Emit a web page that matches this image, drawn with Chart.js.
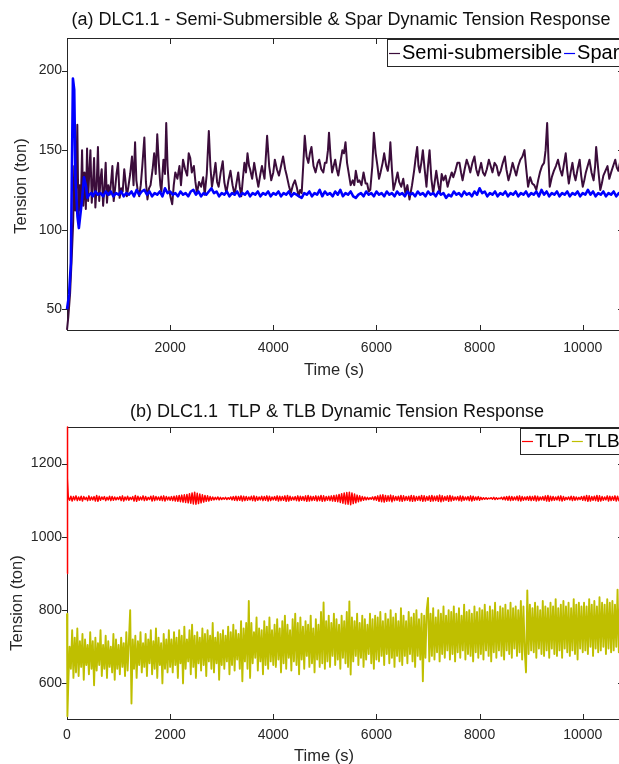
<!DOCTYPE html>
<html>
<head>
<meta charset="utf-8">
<script src="https://cdn.jsdelivr.net/npm/chart.js@4.4.1/dist/chart.umd.min.js"></script>
<style>
  html, body { margin: 0; padding: 0; background: #fff; }
  body { width: 619px; height: 764px; overflow: hidden; position: relative; }
  .panel { position: absolute; left: 0; width: 640px; }
  #pa { top: 0; height: 380px; }
  #pb { top: 380px; height: 384px; }
</style>
</head>
<body>
<div class="panel" id="pa"><canvas id="ca" width="640" height="380"></canvas></div>
<div class="panel" id="pb"><canvas id="cb" width="640" height="384"></canvas></div>
<script>
// ---------------- DATA ----------------
// Panel (a): Semi-submersible (time in s, tension in ton)
const semiTime = [0,25,60,95,120,140,160,180,200,222,245,265,292,315,340,365,389,410,430,454,480,505,525,550,575,600,625,650,673,700,725,750,775,800,830,860,880,905,930,960,990,1020,1050,1080,1110,1130,1160,1190,1225,1260,1290,1320,1345,1370,1400,1430,1460,1500,1530,1560,1590,1620,1660,1690,1720,1750,1780,1810,1830,1870,1900,1924,1950,1980,2010,2040,2070,2100,2140,2180,2210,2250,2290,2330,2360,2390,2420,2460,2490,2520,2560,2600,2640,2670,2710,2750,2780,2810,2850,2880,2910,2940,2980,3020,3050,3090,3130,3170,3210,3250,3290,3320,3350,3380,3410,3440,3470,3500,3530,3550,3590,3630,3670,3710,3750,3780,3830,3880,3920,3960,4000,4030,4070,4110,4150,4190,4230,4260,4300,4340,4380,4420,4460,4490,4520,4550,4580,4610,4645,4680,4710,4740,4780,4820,4860,4890,4930,4970,5000,5030,5060,5080,5110,5140,5170,5200,5230,5260,5300,5340,5370,5400,5430,5470,5500,5540,5570,5600,5640,5670,5710,5750,5790,5820,5850,5880,5920,5950,5985,6020,6050,6080,6120,6150,6190,6220,6250,6270,6300,6330,6370,6410,6440,6480,6520,6560,6600,6640,6690,6730,6760,6790,6815,6840,6870,6900,6935,6970,7000,7030,7065,7100,7130,7160,7200,7230,7265,7300,7340,7380,7420,7460,7490,7530,7570,7610,7640,7670,7710,7750,7790,7820,7860,7900,7935,7970,8000,8030,8065,8100,8140,8180,8215,8250,8290,8330,8370,8410,8450,8490,8520,8560,8600,8640,8675,8710,8750,8790,8830,8870,8905,8940,8980,9020,9060,9100,9135,9170,9210,9250,9280,9310,9335,9360,9400,9440,9480,9520,9560,9600,9635,9670,9700,9730,9765,9800,9830,9860,9900,9940,9970,10000,10030,10060,10095,10130,10170,10210,10240,10260,10300,10340,10370,10400,10440,10480,10515,10550,10590,10630,10660,10690,10720,10760,10800];
const semiTension = [37,45,60,85,105,140,112,130,166,108,128,112,150,115,136,113,151,118,135,150,117,130,145,114,128,152,118,132,138,115,126,142,117,128,122,132,140,118,125,135,142,120,126,124,138,132,121,127,135,146,128,155,131,125,121,128,140,158,130,119,126,128,138,148,135,160,142,128,124,144,135,167,140,125,120,116,128,136,132,140,128,144,138,134,148,145,136,140,130,123,130,127,133,122,135,162,140,127,135,142,130,127,136,143,130,123,131,137,128,122,130,136,127,121,132,142,136,148,140,138,132,142,134,127,135,140,132,159,140,131,136,144,138,134,140,146,138,134,128,123,128,131,126,121,125,123,140,159,146,142,148,152,140,136,142,144,138,136,142,142,150,161,146,136,140,144,138,134,142,150,148,155,142,134,128,131,128,137,130,131,128,136,129,129,124,125,140,161,148,140,132,136,142,148,140,137,144,155,138,125,130,136,130,127,132,123,128,119,128,137,145,152,140,136,142,150,138,127,140,150,132,123,130,137,128,123,135,131,134,127,132,136,133,137,142,142,136,131,138,144,140,136,142,146,138,134,138,142,136,134,138,144,140,136,142,140,134,137,142,146,138,131,136,142,138,134,140,144,146,150,138,127,133,129,128,125,131,136,140,142,150,167,145,127,133,137,140,144,138,134,141,148,137,129,136,142,135,131,138,144,134,127,131,136,140,144,136,131,140,152,138,125,129,134,137,140,132,136,140,144,139,137,142,146,140];

// Panel (a): Spar — start transient, then steady part sampled every 50 s from 500 s
const sparStartTime = [0,40,75,115,140,165,204,230,285,330,370,395,430,470];
const sparStartTension = [50,59,79,195,188,131,108,101,117,133,127,120,122,123];
const sparStep = 50;
const sparSteadyStart = 500;
const sparTension = [
  121,124,122,123,121,124,122,124,121,123,122,124,121,123,122,124,121,125,122,124,
  125,122,124,121,123,122,124,121,126,123,124,122,123,121,124,122,123,121,124,125,
  122,124,121,123,122,124,126,123,124,121,123,122,124,121,123,122,124,121,123,122,
  124,121,123,122,124,121,123,122,124,121,123,122,124,121,123,122,124,121,123,122,
  121,120,123,122,124,121,123,122,125,121,124,122,123,121,124,122,125,121,123,122,
  124,121,120,122,123,121,124,122,123,121,124,122,123,121,124,122,123,121,124,122,
  123,121,124,122,123,121,124,122,123,121,124,122,123,121,124,122,123,120,122,121,
  124,122,123,121,124,122,123,121,124,122,126,123,124,121,123,122,124,121,123,122,
  124,121,123,122,124,121,123,122,124,121,123,122,124,121,125,122,124,121,123,122,
  124,121,123,122,124,121,123,122,124,121,123,122,125,122,124,121,123,122,124,121,
  123,122,124,121,123,122,124];

// Panel (b): TLP and TLB — start transients, then samples every 25 s
const tlpStartTime = [0,5,15];
const tlpStartTension = [900,1300,1160];
const tlbStartTime = [0,8];
const tlbStartTension = [790,510];
const bStep = 25;
const tlpTension = [
  1108,1100,1111,1098,1110,1101,1112,1099,1109,1100,1111,1098,1110,1102,1108,1099,1112,1100,1109,1101,1110,1098,1113,1097,1111,1100,1109,1102,1110,1099,1108,1101,1111,1099,1110,1100,1109,1101,1108,1102,
  1110,1099,1112,1098,1109,1101,1111,1100,1108,1102,1110,1098,1113,1097,1111,1100,1109,1101,1112,1099,1110,1100,1108,1102,1111,1098,1112,1099,1110,1101,1109,1100,1111,1099,1112,1098,1110,1101,1109,1100,
  1110,1099,1111,1098,1112,1097,1113,1096,1114,1095,1115,1094,1116,1093,1118,1092,1120,1090,1122,1089,1119,1091,1117,1093,1115,1095,1113,1097,1112,1098,1110,1100,1109,1101,1108,1102,1109,1101,1108,1102,
  1107,1103,1108,1102,1107,1103,1109,1101,1110,1100,1111,1099,1110,1100,1112,1098,1111,1099,1110,1100,1109,1101,1111,1099,1112,1098,1110,1100,1109,1101,1111,1099,1110,1100,1112,1098,1111,1099,1109,1101,
  1110,1100,1112,1098,1111,1099,1110,1100,1112,1097,1113,1098,1111,1100,1109,1101,1110,1099,1112,1098,1111,1100,1110,1099,1112,1097,1113,1098,1111,1099,1110,1100,1112,1098,1111,1099,1113,1097,1112,1098,
  1110,1100,1111,1099,1112,1098,1113,1097,1114,1096,1116,1094,1118,1092,1120,1090,1121,1089,1122,1088,1120,1091,1117,1093,1114,1096,1112,1098,1110,1100,1109,1101,1108,1102,1107,1103,1109,1101,1110,1100,
  1112,1097,1114,1096,1115,1095,1113,1097,1112,1098,1114,1096,1112,1099,1110,1100,1111,1098,1113,1097,1112,1099,1110,1100,1111,1098,1113,1097,1112,1098,1110,1100,1111,1099,1113,1097,1112,1098,1110,1100,
  1112,1097,1113,1098,1111,1099,1112,1097,1114,1096,1112,1098,1110,1100,1112,1097,1113,1098,1111,1100,1109,1101,1110,1099,1112,1098,1111,1100,1109,1101,1110,1099,1112,1098,1111,1100,1109,1101,1110,1100,
  1108,1102,1107,1103,1107,1103,1106,1104,1107,1103,1108,1102,1107,1103,1106,1104,1108,1102,1109,1101,1110,1100,1111,1099,1110,1100,1109,1101,1111,1099,1112,1098,1110,1100,1109,1101,1110,1100,1111,1099,
  1110,1100,1112,1098,1111,1099,1109,1101,1110,1100,1112,1098,1113,1097,1111,1099,1110,1100,1109,1101,1111,1099,1112,1098,1110,1100,1108,1102,1109,1101,1111,1099,1110,1100,1109,1101,1108,1102,1110,1100,
  1111,1099,1113,1097,1112,1098,1110,1100,1111,1099,1113,1097,1112,1098,1110,1100,1109,1101,1112,1098,1111,1099,1110,1100,1112,1098,1111,1099,1110,1100,1109,1101];
const tlbTension = [
  600,700,640,745,615,725,630,750,620,715,645,735,610,720,650,705,625,740,640,715,595,725,635,710,650,745,620,705,640,730,615,715,645,700,630,735,610,720,640,705,
  625,725,645,710,620,740,635,715,800,545,720,640,730,615,715,650,740,630,710,645,735,620,720,655,745,625,715,640,750,615,725,650,710,600,735,640,720,630,745,645,
  720,630,740,650,725,615,745,655,730,600,755,640,720,660,745,625,760,645,730,615,740,655,725,635,750,650,735,620,745,660,730,640,765,630,725,655,740,610,735,650,
  745,640,730,660,755,625,740,650,760,635,745,665,735,640,770,606,750,660,765,640,825,615,765,655,740,670,780,635,750,660,745,625,770,650,755,640,780,660,745,650,
  760,645,775,665,750,630,770,655,785,640,760,670,745,635,775,660,790,650,765,625,780,665,755,640,770,675,760,645,785,655,750,630,775,665,760,645,795,655,821,640,
  770,660,785,645,765,675,790,650,775,665,760,640,785,670,770,655,795,645,824,624,780,660,770,675,790,650,765,670,785,645,775,665,760,680,790,655,775,640,785,665,
  780,660,795,675,770,650,790,680,775,655,800,670,780,645,790,675,770,660,805,650,785,675,770,655,795,680,780,660,790,645,800,675,775,665,790,606,785,670,800,833,
  660,790,675,805,665,780,685,800,660,790,680,810,670,785,690,800,665,795,680,810,660,790,685,805,670,785,690,815,665,795,680,800,675,790,660,810,685,795,670,805,
  680,800,665,815,690,795,675,810,660,800,685,820,670,795,690,810,675,805,665,815,690,800,680,820,670,805,695,810,675,800,685,825,665,810,690,630,854,680,815,690,
  805,685,820,670,810,695,800,680,825,675,810,690,805,670,820,695,810,680,830,675,805,690,815,670,825,695,810,685,820,675,805,690,830,680,815,665,820,695,810,685,
  820,690,810,680,830,700,815,675,825,695,810,685,835,690,820,700,815,680,830,695,820,685,825,690,815,700,856,685,830,695,820,705];

// Axis ticks
const xTicksA = [2000,4000,6000,8000,10000];
const xTicksB = [0,2000,4000,6000,8000,10000];
const yTicksA = [50,100,150,200];
const yTicksB = [600,800,1000,1200];

// ---------------- BUILD POINTS ----------------
function pts(times, vals) { return times.map((t, i) => ({ x: t, y: vals[i] })); }
function stepped(start, step, vals) { return vals.map((v, i) => ({ x: start + i * step, y: v })); }

const semiPts = pts(semiTime, semiTension);
const sparPts = pts(sparStartTime, sparStartTension).concat(stepped(sparSteadyStart, sparStep, sparTension));
const tlpPts = pts(tlpStartTime, tlpStartTension).concat(stepped(bStep, bStep, tlpTension));
const tlbPts = pts(tlbStartTime, tlbStartTension).concat(stepped(bStep, bStep, tlbTension));

const FONT = '"Liberation Sans", Arial, Helvetica, sans-serif';
const AX = '#262626';

// ---------------- MATLAB-like frame / titles / legend ----------------
const matlabPlugin = {
  id: 'matlab',
  beforeDatasetsDraw(chart, args, o) {
    const { ctx, chartArea: a, scales } = chart;
    ctx.save();
    ctx.strokeStyle = AX; ctx.lineWidth = 1;
    ctx.strokeRect(Math.round(a.left) + 0.5, Math.round(a.top) + 0.5, Math.round(a.right - a.left) - 1, Math.round(a.bottom - a.top) - 1);
    ctx.beginPath();
    for (const t of scales.x.ticks) {
      const px = Math.round(scales.x.getPixelForValue(t.value)) + 0.5;
      ctx.moveTo(px, a.bottom); ctx.lineTo(px, a.bottom - 6);
      ctx.moveTo(px, a.top); ctx.lineTo(px, a.top + 6);
    }
    for (const t of scales.y.ticks) {
      const py = Math.round(scales.y.getPixelForValue(t.value)) + 0.5;
      ctx.moveTo(a.left - 5, py); ctx.lineTo(a.left, py);
      ctx.moveTo(a.right, py); ctx.lineTo(a.right - 6, py);
    }
    ctx.stroke();
    ctx.restore();
  },
  afterDraw(chart, args, o) {
    const { ctx, chartArea: a } = chart;
    ctx.save();
    ctx.fillStyle = '#111';
    ctx.font = `18px ${FONT}`;
    ctx.textAlign = 'center'; ctx.textBaseline = 'middle';
    ctx.fillText(o.title.text, o.title.x, o.title.y);
    ctx.fillStyle = AX;
    ctx.font = `16.5px ${FONT}`;
    ctx.fillText(o.xTitle.text, o.xTitle.x, o.xTitle.y);
    ctx.save();
    ctx.translate(o.yTitle.x, o.yTitle.y);
    ctx.rotate(-Math.PI / 2);
    ctx.fillText(o.yTitle.text, 0, 0);
    ctx.restore();
    const L = o.legend;
    ctx.font = `${L.size}px ${FONT}`;
    let x = L.left + 2;
    const top = a.top + 1, h = L.height, cy = top + h / 2;
    const segs = [];
    for (const it of L.items) {
      const w = ctx.measureText(it.label).width;
      segs.push({ it, x, w });
      x += 11 + 2 + w + 2;
    }
    const width = x - L.left + 2;
    ctx.fillStyle = '#fff';
    ctx.fillRect(L.left, top, width, h);
    ctx.strokeStyle = AX; ctx.lineWidth = 1;
    ctx.strokeRect(L.left + 0.5, top + 0.5, width, h);
    for (const s of segs) {
      ctx.strokeStyle = s.it.color; ctx.lineWidth = 1.2;
      ctx.beginPath(); ctx.moveTo(s.x, Math.round(cy) + 0.5); ctx.lineTo(s.x + 11, Math.round(cy) + 0.5); ctx.stroke();
      ctx.fillStyle = '#000'; ctx.textAlign = 'left'; ctx.textBaseline = 'middle';
      ctx.fillText(s.it.label, s.x + 13, cy + 1);
    }
    ctx.restore();
  }
};

function makeChart(id, datasets, cfg) {
  return new Chart(document.getElementById(id), {
    type: 'line',
    data: { datasets },
    plugins: [matlabPlugin],
    options: {
      responsive: false,
      animation: false,
      events: [],
      layout: { padding: { top: cfg.padTop, right: 16, left: 0, bottom: 0 } },
      elements: { point: { radius: 0 }, line: { tension: 0, borderCapStyle: 'butt', borderJoinStyle: 'round' } },
      plugins: {
        legend: { display: false }, tooltip: { enabled: false }, title: { display: false },
        matlab: cfg.matlab
      },
      scales: {
        x: {
          type: 'linear', min: 0, max: 10800,
          grid: { display: false, drawTicks: false }, border: { display: false },
          afterBuildTicks: s => { s.ticks = cfg.xTicks.map(v => ({ value: v })); },
          afterFit: s => { s.height = cfg.xAxisH; },
          ticks: { padding: cfg.xPad, color: AX, font: { family: FONT, size: 14 }, maxRotation: 0, autoSkip: false, callback: v => String(v) }
        },
        y: {
          type: 'linear', min: cfg.yMin, max: cfg.yMax,
          grid: { display: false, drawTicks: false }, border: { display: false },
          afterBuildTicks: s => { s.ticks = cfg.yTicks.map(v => ({ value: v })); },
          afterFit: s => { s.width = 67; },
          ticks: { padding: 5, color: AX, font: { family: FONT, size: 14 }, autoSkip: false, callback: v => String(v) }
        }
      }
    }
  });
}

makeChart('ca', [
  { label: 'Semi-submersible', data: semiPts, borderColor: '#3b0d3b', borderWidth: 2, order: 1, clip: false },
  { label: 'Spar', data: sparPts, borderColor: '#0000ff', borderWidth: 2.6, order: 0, clip: false }
], {
  padTop: 38, xAxisH: 49, xPad: 9, yMin: 36.3, yMax: 220.5, xTicks: xTicksA, yTicks: yTicksA,
  matlab: {
    title: { text: '(a) DLC1.1 - Semi-Submersible & Spar Dynamic Tension Response', x: 341, y: 20 },
    xTitle: { text: 'Time (s)', x: 334, y: 370 },
    yTitle: { text: 'Tension (ton)', x: 21, y: 186 },
    legend: { left: 387, height: 27, size: 20, items: [ { label: 'Semi-submersible', color: '#3b0d3b' }, { label: 'Spar', color: '#0000ff' } ] }
  }
});

makeChart('cb', [
  { label: 'TLP', data: tlpPts, borderColor: '#ff0000', borderWidth: 1.5, order: 0, clip: false },
  { label: 'TLB', data: tlbPts, borderColor: '#bfbf00', borderWidth: 1.9, order: 1, clip: false }
], {
  padTop: 47, xAxisH: 44, xPad: 7, yMin: 500, yMax: 1300, xTicks: xTicksB, yTicks: yTicksB,
  matlab: {
    title: { text: '(b) DLC1.1  TLP & TLB Dynamic Tension Response', x: 337, y: 32 },
    xTitle: { text: 'Time (s)', x: 324, y: 376 },
    yTitle: { text: 'Tension (ton)', x: 17, y: 223 },
    legend: { left: 520, height: 26, size: 19, items: [ { label: 'TLP', color: '#ff0000' }, { label: 'TLB', color: '#bfbf00' } ] }
  }
});
</script>
</body>
</html>
